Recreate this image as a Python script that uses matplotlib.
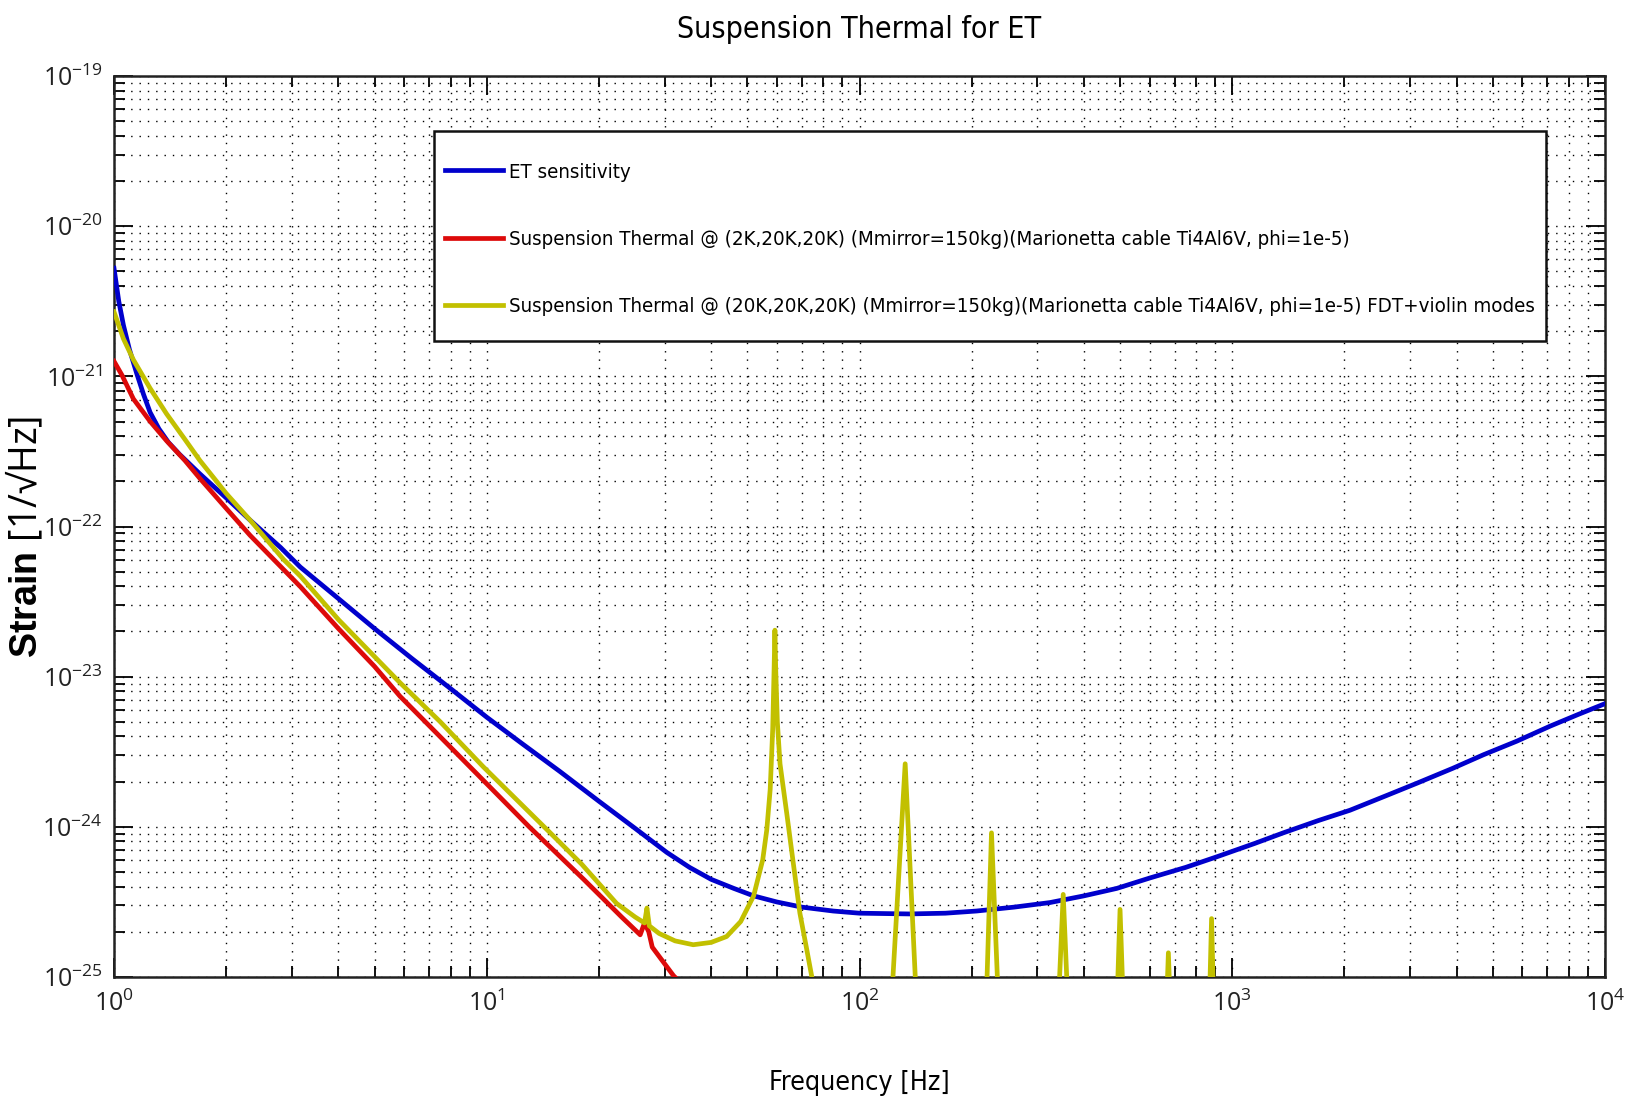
import numpy as np
import matplotlib
matplotlib.use('Agg')
import matplotlib.pyplot as plt
from matplotlib import font_manager
from matplotlib.font_manager import FontProperties
from matplotlib.ticker import LogLocator, NullFormatter, FixedLocator
from matplotlib.lines import Line2D
from matplotlib.patches import Rectangle

# ---------------- data ----------------
freq_et = [1.0, 1.03, 1.06, 1.10, 1.15, 1.20, 1.25, 1.32, 1.40, 1.50, 1.70, 2.0, 2.32, 2.8,
           3.16, 4.0, 5.0, 6.3, 8.0, 10.0, 12.5, 15.7, 20, 25, 30.4, 35, 40, 46, 52, 60, 70,
           85, 100, 136, 170, 206, 260, 324, 400, 490, 602, 750, 908, 1150, 1371, 1700, 2070,
           2600, 3126, 3900, 4720, 5800, 7120, 8500, 10000]
strain_et = [5.25e-21, 3.16e-21, 2.19e-21, 1.51e-21, 1.05e-21, 7.59e-22, 5.75e-22, 4.47e-22,
             3.63e-22, 3.02e-22, 2.24e-22, 1.55e-22, 1.10e-22, 7.24e-23, 5.37e-23, 3.31e-23,
             2.09e-23, 1.32e-23, 8.32e-24, 5.37e-24, 3.55e-24, 2.34e-24, 1.48e-24, 9.77e-25,
             6.76e-25, 5.37e-25, 4.47e-25, 3.89e-25, 3.47e-25, 3.16e-25, 2.92e-25, 2.75e-25,
             2.66e-25, 2.63e-25, 2.66e-25, 2.75e-25, 2.92e-25, 3.13e-25, 3.47e-25, 3.89e-25,
             4.57e-25, 5.37e-25, 6.31e-25, 7.76e-25, 9.12e-25, 1.10e-24, 1.29e-24, 1.62e-24,
             1.95e-24, 2.45e-24, 3.02e-24, 3.72e-24, 4.68e-24, 5.62e-24, 6.61e-24]

freq_st2 = [1.0, 1.05, 1.127, 1.25, 1.384, 1.55, 1.70, 2.0, 2.32, 3.16, 4.0, 5.0, 5.85, 7.5,
            9.79, 13, 18.2, 23, 25.8, 26.5, 27.2, 27.8, 31.7, 36]
strain_st2 = [1.26e-21, 1.02e-21, 7.08e-22, 5.01e-22, 3.72e-22, 2.75e-22, 2.09e-22, 1.32e-22,
              8.71e-23, 3.98e-23, 2.09e-23, 1.17e-23, 7.41e-24, 3.98e-24, 2.04e-24, 1.00e-24,
              4.47e-25, 2.51e-25, 1.91e-25, 2.29e-25, 2.00e-25, 1.58e-25, 1.02e-25, 7.41e-26]

freq_st20 = [1.0, 1.06, 1.127, 1.25, 1.384, 1.55, 1.70, 2.0, 2.32, 2.85, 3.16, 4.0, 5.85, 7.5,
             9.79, 14.8, 18, 22.3, 25, 26.5, 26.9, 27.3, 29, 32, 35.8, 40, 44, 48, 52, 55, 56.4,
             57.6, 58.5, 59.0, 59.3, 59.6, 60.2, 61.2, 63.8, 66.5, 69.2, 72, 74.5, 78,
             121, 132.6, 143,
             218, 226, 237,
             340, 352, 364,
             489, 500, 512,
             664, 674, 684,
             866, 880, 894]
strain_st20 = [2.69e-21, 1.78e-21, 1.29e-21, 8.32e-22, 5.62e-22, 3.80e-22, 2.75e-22, 1.66e-22,
               1.10e-22, 6.03e-23, 4.68e-23, 2.40e-23, 9.12e-24, 5.01e-24, 2.51e-24, 9.12e-25,
               5.62e-25, 3.09e-25, 2.51e-25, 2.29e-25, 2.88e-25, 2.19e-25, 1.95e-25, 1.74e-25,
               1.64e-25, 1.70e-25, 1.86e-25, 2.34e-25, 3.47e-25, 6.03e-25, 9.55e-25, 1.78e-24,
               4.47e-24, 1.12e-23, 2.04e-23, 1.12e-23, 5.01e-24, 2.63e-24, 1.23e-24, 5.62e-25,
               2.66e-25, 1.58e-25, 1.00e-25, 5.62e-26,
               5.0e-26, 2.63e-24, 5.0e-26,
               5.0e-26, 9.12e-25, 5.0e-26,
               5.0e-26, 3.55e-25, 5.0e-26,
               5.0e-26, 2.82e-25, 5.0e-26,
               5.0e-26, 1.45e-25, 5.0e-26,
               5.0e-26, 2.45e-25, 5.0e-26]

series_labels = [
    'ET sensitivity',
    'Suspension Thermal @ (2K,20K,20K) (Mmirror=150kg)(Marionetta cable Ti4Al6V, phi=1e-5)',
    'Suspension Thermal @ (20K,20K,20K) (Mmirror=150kg)(Marionetta cable Ti4Al6V, phi=1e-5) FDT+violin modes',
]
series_colors = ['#0000cc', '#dd0a0a', '#c2c000']
title_text = 'Suspension Thermal for ET'
xlabel_text = 'Frequency [Hz]'
ylabel_text = r'$\mathbf{Strain}$ [1/√Hz]'
xticks = [1, 10, 100, 1000, 10000]
yticks = [1e-25, 1e-24, 1e-23, 1e-22, 1e-21, 1e-20, 1e-19]
xlim = (1, 1e4)
ylim = (1e-25, 1e-19)

# ---------------- fonts ----------------
ttf = font_manager.fontManager.ttflist
avail = {f.name for f in ttf}
def pick(*names):
    for n in names:
        if n in avail:
            return n
    return 'DejaVu Sans'
plain = pick('Liberation Sans', 'DejaVu Sans')
wide = pick('Open Sans', 'Noto Sans', 'Lato')

# look for a condensed / narrow sans face (closest to the reference lettering)
cond_file = None
for f in ttf:
    nm = f.name
    if 'Mono' in nm or 'Serif' in nm:
        continue
    if f.style != 'normal' or f.weight not in (400, 'normal', 'regular', 'book'):
        continue
    if ('Narrow' in nm or 'Condensed' in nm or 'Condensed' in f.fname
            or f.stretch in ('condensed', 'semi-condensed', 'extra-condensed')):
        cond_file = f.fname
        break

def text_prop(size):
    if cond_file:
        return FontProperties(fname=cond_file, size=size)
    return FontProperties(family=[wide, 'DejaVu Sans'], size=size)

plt.rcParams['font.family'] = [wide, 'DejaVu Sans']
plt.rcParams['axes.unicode_minus'] = False
plt.rcParams['mathtext.fontset'] = 'custom'
plt.rcParams['mathtext.rm'] = plain
plt.rcParams['mathtext.it'] = plain + ':italic'
plt.rcParams['mathtext.bf'] = plain + ':bold'

# ---------------- figure ----------------
W, H = 1632, 1103
fig = plt.figure(figsize=(W / 100, H / 100), dpi=100)
fig.patch.set_facecolor('white')
L, R, T, B = 114, 1605, 76, 977
ax = fig.add_axes([L / W, 1 - B / H, (R - L) / W, (B - T) / H])

lw = 3.4
ax.plot(freq_et, strain_et, color=series_colors[0], lw=lw, zorder=3)
ax.plot(freq_st2, strain_st2, color=series_colors[1], lw=lw, zorder=3)
ax.plot(freq_st20, strain_st20, color=series_colors[2], lw=lw, zorder=3)

ax.set_xscale('log')
ax.set_yscale('log')
ax.set_xlim(*xlim)
ax.set_ylim(*ylim)
ax.xaxis.set_major_locator(FixedLocator(xticks))
ax.yaxis.set_major_locator(FixedLocator(yticks))
for axis in (ax.xaxis, ax.yaxis):
    axis.set_minor_locator(LogLocator(base=10, subs=np.arange(2, 10), numticks=200))
    axis.set_minor_formatter(NullFormatter())

ax.tick_params(which='both', direction='in', top=True, right=True, width=1.3, colors='black')
ax.tick_params(which='major', length=14, labelsize=18)
ax.tick_params(which='minor', length=8)
ax.tick_params(axis='x', which='major', pad=10)
ax.tick_params(axis='y', which='major', pad=8)
for lab in ax.get_xticklabels() + ax.get_yticklabels():
    lab.set_color('#222222')

ax.set_axisbelow(True)
ax.grid(True, which='major', color='black', linestyle=(0, (1, 5)), lw=1.0)
ax.grid(True, which='minor', color='black', linestyle=(0, (1, 5)), lw=1.0)
for s in ax.spines.values():
    s.set_linewidth(1.8)
    s.set_color('#222222')

# ---------------- labels ----------------
ttl = ax.set_title(title_text, fontproperties=text_prop(26), pad=0,
                   y=(B - 30) / (B - T), va='center')
ax.set_xlabel(xlabel_text, fontproperties=text_prop(24))
ax.xaxis.set_label_coords(0.5, (B - 1083) / (B - T))
ax.xaxis.label.set_va('center')
ax.set_ylabel(ylabel_text, fontsize=22)
ax.yaxis.set_label_coords((26 - L) / (R - L), (B - 537) / (B - T))
ax.yaxis.label.set_va('center')

renderer = fig.canvas.get_renderer()
def fit(txt, target, vertical=False):
    bb = txt.get_window_extent(renderer)
    w = bb.height if vertical else bb.width
    if w > 0:
        txt.set_fontsize(txt.get_fontsize() * target / w)

fit(ttl, 365)
fit(ax.xaxis.label, 182)
fit(ax.yaxis.label, 242, vertical=True)

# ---------------- legend ----------------
frame = Rectangle((434 / W, 1 - 341 / H), (1546 - 434) / W, (341 - 131) / H,
                  transform=fig.transFigure, facecolor='white', edgecolor='#111111',
                  lw=1.8, zorder=4.5, clip_on=False)
ax.add_patch(frame)

handles = [Line2D([], [], color=c, lw=lw) for c in series_colors]

def make_legend(fs, ls, ytop):
    F = fs * 100 / 72.0
    lg = ax.legend(handles, series_labels, loc='upper left',
                   bbox_to_anchor=(445 / W, 1 - ytop / H), bbox_transform=fig.transFigure,
                   frameon=False, prop=text_prop(fs), handlelength=58 / F,
                   handletextpad=6 / F, borderpad=0, borderaxespad=0, labelspacing=ls)
    lg.set_zorder(5)
    return lg

fs = 14.0
leg = make_legend(fs, 1.5, 150)
fig.canvas.draw()
wlong = leg.get_texts()[2].get_window_extent(renderer).width
fs = fs * 1029 / wlong
ls = 1.5
ytop = 150
for _ in range(3):
    leg.remove()
    leg = make_legend(fs, ls, ytop)
    fig.canvas.draw()
    centers = []
    for t in leg.get_texts():
        bb = t.get_window_extent(renderer)
        centers.append(H - (bb.y0 + bb.y1) / 2)
    pitch = (centers[2] - centers[0]) / 2
    F = fs * 100 / 72.0
    ls = ls + (67.5 - pitch) / F
    ytop = ytop + (172 - centers[0])

fig.savefig('out.png', dpi=100, facecolor='white')
